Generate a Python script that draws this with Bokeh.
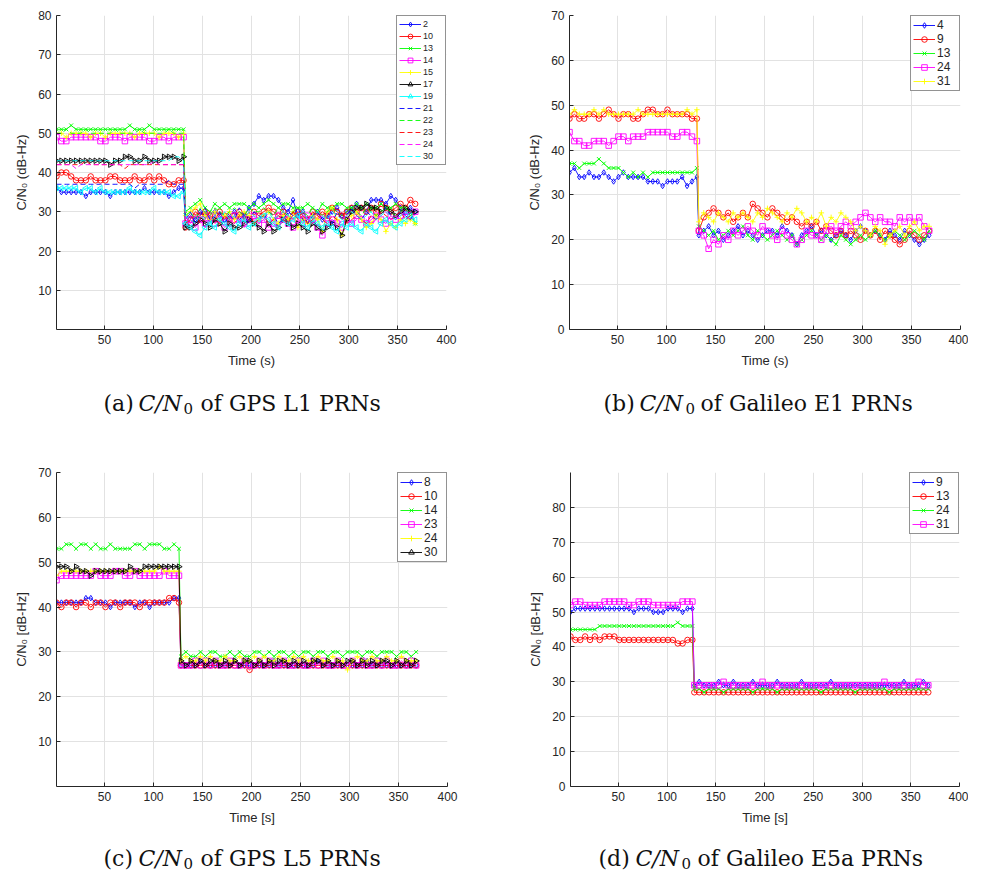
import math
from bokeh.plotting import figure
from bokeh.layouts import column, row
from bokeh.models import Range1d, FixedTicker
from bokeh.embed import file_html
from bokeh.resources import INLINE
from bokeh.core.properties import value

# ---------------- sample times (s) ----------------
T_E1L1_PRE = list(range(1, 132, 5))     # before the attenuation step (~131 s)
T_E1L1_POST = list(range(133, 372, 5))  # after the step
T_L5E5_PRE = list(range(1, 127, 5))     # before the step (~126 s)
T_L5E5_POST = list(range(128, 372, 5))

X_TICKS = [50, 100, 150, 200, 250, 300, 350, 400]

# ---------------- (a) GPS L1 C/N0 [dB-Hz] ----------------
l1_2_pre = [36,35,35,35,35,35,34,35,35,35,35,34,35,35,35,35,35,35,36,35,35,35,35,34,35,36,36]
l1_2_post = [27,29,28,30,29,28,30,29,28,29,30,28,29,31,32,34,33,34,34,33,31,30,33,29,30,28,29,30,28,29,30,31,29,30,31,32,31,30,33,33,33,32,34,33,31,30,31,30]
l1_10_pre = [39,40,40,39,38,38,38,39,38,38,38,39,39,38,38,38,39,38,38,39,38,39,38,37,37,38,38]
l1_10_post = [26,28,30,29,30,29,28,30,29,28,29,30,29,28,30,29,30,31,30,29,30,28,29,30,29,28,30,29,30,29,31,30,29,30,31,30,31,30,31,30,32,31,30,31,32,31,33,32]
l1_13_pre = [51,51,51,52,51,51,51,51,51,51,51,51,51,51,51,52,51,51,51,52,51,51,51,51,51,51,51]
l1_13_post = [30,31,32,33,31,30,32,31,32,31,32,32,32,31,32,31,32,33,32,31,32,32,31,31,31,32,31,30,32,31,31,32,32,31,31,32,31,32,31,31,32,31,31,32,31,31,30,27]
l1_14_pre = [49,48,48,49,49,49,49,49,49,48,48,49,49,49,48,49,49,49,49,48,48,49,49,48,49,49,49]
l1_14_post = [27,28,26,28,27,29,27,28,26,27,29,28,27,28,29,27,28,26,27,29,28,27,26,28,27,29,28,26,24,27,28,27,26,28,27,29,28,27,28,29,28,27,29,28,29,30,29,30]
l1_15_pre = [50,50,49,50,50,50,50,49,50,50,49,50,50,50,50,50,49,50,50,50,50,49,50,50,50,49,50]
l1_15_post = [29,30,31,32,29,28,30,27,29,30,28,29,30,29,27,28,29,30,28,27,29,28,30,26,28,27,29,28,25,30,31,28,24,28,29,30,28,26,27,29,28,25,27,26,28,27,28,27]
l1_17_pre = [43,43,43,43,43,43,43,43,43,43,43,42,43,43,44,44,43,43,44,43,43,43,44,44,44,43,44]
l1_17_post = [26,26,27,28,27,26,28,27,25,27,26,26,27,28,27,26,25,27,25,26,28,27,26,27,26,25,27,26,25,26,27,26,24,28,30,31,31,32,31,31,30,31,30,29,30,31,30,30]
l1_19_pre = [36,36,36,36,36,35,36,36,35,36,35,35,35,35,35,36,35,35,35,35,36,35,35,35,34,34,35]
l1_19_post = [27,26,25,24,26,27,26,28,27,26,25,27,28,26,27,28,29,28,27,26,28,27,28,29,27,26,28,27,26,27,26,25,27,26,27,26,25,27,26,25,27,28,27,26,27,28,29,28]
l1_21_pre = [37,37,37,37,37,37,37,37,37,37,37,37,37,37,37,37,36,37,37,37,37,37,37,38,37,37,37]
l1_21_post = [28,30,27,29,31,28,29,30,27,29,28,31,29,27,30,29,28,30,29,27,28,30,29,31,28,27,29,30,28,29,27,30,28,29,31,29,28,30,29,28,30,31,29,28,30,29,28,30]
l1_22_pre = [50,50,51,50,50,50,51,50,50,50,50,50,51,50,50,50,50,51,50,50,50,50,50,51,50,50,50]
l1_22_post = [29,30,28,31,30,29,31,30,29,30,31,30,29,31,30,30,31,30,29,31,30,29,30,31,30,29,31,30,29,30,31,30,29,30,31,30,29,31,30,29,30,31,30,29,30,31,29,30]
l1_23_pre = [42,42,42,42,42,42,43,42,42,42,42,42,42,42,41,42,42,42,42,42,42,42,42,42,42,42,42]
l1_23_post = [27,28,29,27,28,30,28,27,29,28,27,29,28,30,27,28,29,27,28,29,28,27,30,28,29,27,28,29,28,27,29,28,30,27,28,29,28,27,29,28,30,29,28,29,30,28,29,30]
l1_24_pre = [42,42,42,42,41,42,42,42,42,42,42,42,42,42,42,42,42,42,42,42,43,42,42,42,42,42,42]
l1_24_post = [28,27,29,28,26,28,29,27,28,29,27,28,26,29,28,27,28,29,27,26,28,29,28,27,29,28,27,28,29,27,28,26,28,29,27,28,29,28,27,28,29,30,28,29,28,29,30,29]
l1_30_pre = [43,43,43,43,43,43,43,43,43,43,43,43,43,43,43,43,43,43,43,43,43,43,43,43,44,44,43]
l1_30_post = [29,28,27,29,28,27,29,28,30,28,29,27,28,30,29,28,29,30,28,29,30,29,28,29,30,28,29,30,29,28,30,29,28,29,30,29,28,29,30,28,29,30,29,28,29,30,29,28]

# ---------------- (b) Galileo E1 C/N0 [dB-Hz] ----------------
e1_4_pre = [35,36,34,34,35,34,34,35,34,33,34,35,34,34,34,34,33,33,33,32,33,33,33,34,32,33,34]
e1_4_post = [21,22,23,21,22,20,21,22,23,21,22,21,20,21,22,22,21,23,22,21,19,21,22,23,21,22,21,20,21,22,21,20,22,23,22,21,22,21,20,22,21,20,22,21,20,19,20,21]
e1_9_pre = [47,48,47,47,48,48,47,48,49,48,47,48,48,47,47,48,49,49,48,48,49,48,48,48,48,47,47]
e1_9_post = [22,25,26,27,26,25,26,24,25,26,25,28,27,26,25,27,26,25,24,25,24,23,24,23,24,22,23,22,21,22,21,22,21,20,22,21,22,20,22,21,20,19,20,22,21,20,21,22]
e1_13_pre = [37,37,36,37,37,37,38,37,36,36,36,35,34,35,34,35,34,35,35,35,35,35,35,35,35,35,36]
e1_13_post = [23,22,21,22,20,21,22,21,22,23,21,20,22,21,20,21,22,21,20,21,19,20,21,22,21,20,21,20,19,21,20,19,20,21,20,21,22,21,20,21,22,21,20,21,22,21,20,22]
e1_24_pre = [44,42,42,41,41,42,42,42,41,42,43,43,42,43,43,43,44,44,44,44,44,43,43,44,44,43,42]
e1_24_post = [22,21,18,20,19,21,20,22,21,22,23,22,21,23,22,21,20,22,21,20,19,20,22,21,21,20,22,23,22,23,24,23,24,25,26,25,24,25,24,24,23,25,24,25,24,25,23,22]
e1_31_pre = [48,49,48,48,48,49,48,49,48,48,48,48,48,48,49,48,48,48,48,48,48,48,48,48,49,48,49]
e1_31_post = [24,26,25,24,26,25,24,26,25,26,25,24,26,25,27,26,25,24,26,25,27,26,24,25,24,26,23,25,24,26,25,24,22,23,22,21,23,22,19,21,22,23,21,23,24,22,23,23]

# ---------------- (c) GPS L5 C/N0 [dB-Hz] ----------------
l5_8_pre = [41,41,41,41,41,41,42,42,41,41,41,40,41,41,41,41,40,41,41,40,41,41,41,41,42,42]
l5_8_post = [27,27,27,27,28,27,27,27,27,27,27,28,27,27,27,27,27,27,27,28,27,27,27,27,27,27,27,27,28,27,27,27,27,27,27,27,27,27,28,27,27,27,27,27,27,27,27,27,27]
l5_10_pre = [41,40,41,41,40,41,41,40,41,41,40,41,41,40,41,41,41,40,41,41,41,41,41,42,42,41]
l5_10_post = [27,27,27,27,27,27,27,27,27,27,27,27,27,27,26,27,27,27,27,27,27,27,27,27,27,27,27,27,27,27,27,27,27,27,27,27,27,27,27,27,27,27,27,27,27,27,27,27,27]
l5_14_pre = [53,53,54,54,53,54,54,53,54,53,53,54,53,53,53,53,54,54,53,54,54,54,53,53,54,53]
l5_14_post = [29,30,29,29,30,29,30,30,29,29,30,29,30,29,29,30,30,29,30,29,30,30,29,30,29,30,30,29,30,30,29,30,30,29,30,30,30,29,30,30,29,30,30,30,29,30,30,29,30]
l5_23_pre = [46,47,47,47,47,47,47,47,48,47,47,47,48,48,47,47,48,47,47,47,47,47,48,47,47,47]
l5_23_post = [27,27,27,28,27,28,27,28,27,27,28,27,27,28,27,27,28,27,28,27,27,28,27,27,28,27,27,28,27,28,27,27,28,27,27,28,27,28,27,27,28,27,28,27,27,28,27,28,27]
l5_24_pre = [47,48,48,48,48,48,48,48,48,48,48,48,48,48,48,48,48,48,48,48,48,49,48,48,48,48]
l5_24_post = [28,29,28,28,29,28,29,28,28,29,28,28,29,28,28,29,28,29,28,28,29,28,28,29,28,29,28,28,29,28,28,29,28,28,26,28,29,28,28,29,28,28,29,28,28,29,28,28,28]
l5_30_pre = [49,49,49,48,49,48,48,47,48,48,48,48,48,48,48,49,48,48,49,49,49,49,49,49,49,49]
l5_30_post = [28,27,28,27,28,27,28,28,27,28,27,28,27,28,28,27,28,27,28,27,28,28,27,28,27,28,27,28,28,27,28,27,28,27,28,28,27,28,27,28,27,28,28,27,28,27,28,27,28]

# ---------------- (d) Galileo E5a C/N0 [dB-Hz] ----------------
e5a_9_pre = [50,51,51,51,51,51,51,51,51,51,51,51,51,50,51,51,51,50,50,50,51,51,51,50,51,51]
e5a_9_post = [29,30,29,29,29,30,29,29,30,29,29,29,30,29,29,29,29,30,29,29,29,29,30,29,29,29,29,29,30,29,29,29,29,29,29,29,29,29,29,29,29,29,29,30,29,29,29,30,29]
e5a_13_pre = [43,42,42,43,42,43,42,43,43,43,42,42,42,42,42,42,42,42,42,42,42,42,41,41,42,42]
e5a_13_post = [27,27,27,27,27,27,27,27,27,27,27,27,27,27,27,27,27,27,27,27,27,27,27,27,27,27,27,27,27,27,27,27,27,27,27,27,27,27,27,27,27,27,27,27,27,27,27,27,27]
e5a_24_pre = [45,45,45,45,45,45,46,46,46,46,46,46,46,46,46,46,46,46,46,46,46,46,47,46,46,46]
e5a_24_post = [28,28,27,28,28,28,27,28,28,28,28,28,27,28,28,28,28,27,28,28,28,28,28,28,28,28,27,28,28,28,28,28,28,27,28,28,28,28,28,28,27,28,28,28,28,28,28,28,28]
e5a_31_pre = [52,53,53,52,52,52,52,53,53,53,53,53,52,52,53,53,53,52,52,52,52,52,52,53,53,53]
e5a_31_post = [29,29,29,29,29,29,30,29,29,29,29,29,29,29,30,29,29,29,29,29,29,29,29,29,29,29,29,29,29,29,29,29,29,29,29,29,29,29,29,30,29,29,29,29,29,29,30,29,29]

BLUE, RED, GREEN, MAG, YEL, BLK, CYA = "#0000ff", "#ff0000", "#00ff00", "#ff00ff", "#ffff00", "#000000", "#00ffff"
INK = "#262626"
SANS = "Liberation Sans"
SERIF = "DejaVu Serif"

# (label, pre, post, colour, marker, marker angle, dash)
SERIES_A = [
    ("2", l1_2_pre, l1_2_post, BLUE, "diamond", 0, "solid"),
    ("10", l1_10_pre, l1_10_post, RED, "circle", 0, "solid"),
    ("13", l1_13_pre, l1_13_post, GREEN, "x", 0, "solid"),
    ("14", l1_14_pre, l1_14_post, MAG, "square", 0, "solid"),
    ("15", l1_15_pre, l1_15_post, YEL, "cross", 0, "solid"),
    ("17", l1_17_pre, l1_17_post, BLK, "triangle", -math.pi / 2, "solid"),
    ("19", l1_19_pre, l1_19_post, CYA, "triangle", math.pi / 2, "solid"),
    ("21", l1_21_pre, l1_21_post, BLUE, None, 0, "5 3"),
    ("22", l1_22_pre, l1_22_post, GREEN, None, 0, "5 3"),
    ("23", l1_23_pre, l1_23_post, RED, None, 0, "5 3"),
    ("24", l1_24_pre, l1_24_post, MAG, None, 0, "5 3"),
    ("30", l1_30_pre, l1_30_post, CYA, None, 0, "5 3"),
]
SERIES_B = [
    ("4", e1_4_pre, e1_4_post, BLUE, "diamond", 0, "solid"),
    ("9", e1_9_pre, e1_9_post, RED, "circle", 0, "solid"),
    ("13", e1_13_pre, e1_13_post, GREEN, "x", 0, "solid"),
    ("24", e1_24_pre, e1_24_post, MAG, "square", 0, "solid"),
    ("31", e1_31_pre, e1_31_post, YEL, "cross", 0, "solid"),
]
SERIES_C = [
    ("8", l5_8_pre, l5_8_post, BLUE, "diamond", 0, "solid"),
    ("10", l5_10_pre, l5_10_post, RED, "circle", 0, "solid"),
    ("14", l5_14_pre, l5_14_post, GREEN, "x", 0, "solid"),
    ("23", l5_23_pre, l5_23_post, MAG, "square", 0, "solid"),
    ("24", l5_24_pre, l5_24_post, YEL, "cross", 0, "solid"),
    ("30", l5_30_pre, l5_30_post, BLK, "triangle", -math.pi / 2, "solid"),
]
SERIES_D = [
    ("9", e5a_9_pre, e5a_9_post, BLUE, "diamond", 0, "solid"),
    ("13", e5a_13_pre, e5a_13_post, RED, "circle", 0, "solid"),
    ("24", e5a_24_pre, e5a_24_post, GREEN, "x", 0, "solid"),
    ("31", e5a_31_pre, e5a_31_post, MAG, "square", 0, "solid"),
]


def panel(series, t_pre, t_post, y_end, yticks, ylabel, xlabel, w, h, bl, br, bt, bb,
          leg_font, leg_row):
    p = figure(width=w, height=h, x_range=Range1d(1, 400), y_range=Range1d(0, y_end),
               output_backend="svg", toolbar_location=None,
               min_border_left=bl, min_border_right=br, min_border_top=bt, min_border_bottom=bb)
    p.outline_line_color = None
    p.background_fill_color = "white"
    p.xaxis.ticker = FixedTicker(ticks=X_TICKS)
    p.yaxis.ticker = FixedTicker(ticks=yticks)
    for ax in (p.xaxis[0], p.yaxis[0]):
        ax.major_tick_in = 4
        ax.major_tick_out = 0
        ax.minor_tick_line_color = None
        ax.axis_line_color = INK
        ax.major_tick_line_color = INK
        ax.major_label_text_font = SANS
        ax.major_label_text_font_size = "12px"
        ax.major_label_text_color = INK
        ax.axis_label_text_font = SANS
        ax.axis_label_text_font_size = "13px"
        ax.axis_label_text_font_style = "normal"
        ax.axis_label_text_color = INK
        ax.axis_label_standoff = 6
        ax.major_label_standoff = 5
    p.xaxis.axis_label = xlabel
    p.yaxis.axis_label = ylabel
    p.grid.grid_line_color = "#e2e2e2"
    p.grid.grid_line_width = 1

    for lab, pre, post, color, marker, ang, dash in series:
        xs = [t for t, _ in zip(t_pre, pre)] + [t for t, _ in zip(t_post, post)]
        ys = [v for _, v in zip(t_pre, pre)] + [v for _, v in zip(t_post, post)]
        p.line(xs, ys, line_color=color, line_width=0.9, line_dash=dash, legend_label=lab)
        if marker:
            p.scatter(xs, ys, marker=marker, angle=ang, size=5.5, line_color=color,
                      line_width=0.9, fill_color=None, legend_label=lab)

    lg = p.legend[0]
    lg.location = "top_right"
    lg.margin = 0
    lg.padding = 2
    lg.spacing = 0
    lg.glyph_width = 22
    lg.glyph_height = leg_row
    lg.label_height = leg_row
    lg.label_standoff = 2
    lg.label_text_font = SANS
    lg.label_text_font_size = leg_font
    lg.label_text_color = INK
    lg.border_line_color = INK
    lg.border_line_width = 1
    lg.background_fill_color = "white"
    lg.background_fill_alpha = 1
    return p


def caption(w, h, yc, letter, x_letter, x_cn, x_sub, x_rest, rest):
    p = figure(width=w, height=h, x_range=Range1d(0, w), y_range=Range1d(0, h),
               output_backend="svg", toolbar_location=None, min_border=0,
               x_axis_location=None, y_axis_location=None)
    p.grid.visible = False
    p.outline_line_color = None
    common = dict(text_font=value(SERIF), text_baseline="middle", text_align="left",
                  text_color="#111111")
    p.text(x=[x_letter], y=[yc], text=[letter], text_font_size="22px", **common)
    p.text(x=[x_cn], y=[yc], text=["C/N"], text_font_size="22px", text_font_style="italic",
           **common)
    p.text(x=[x_sub], y=[yc - 5], text=["0"], text_font_size="15px", **common)
    p.text(x=[x_rest], y=[yc], text=[rest], text_font_size="22px", **common)
    return p


pa = panel(SERIES_A, T_E1L1_PRE, T_E1L1_POST, 80, [10, 20, 30, 40, 50, 60, 70, 80],
           "C/N\u2080 (dB-Hz)", "Time (s)", 488, 378, 56, 42, 15, 49, "9px", 12)
pb = panel(SERIES_B, T_E1L1_PRE, T_E1L1_POST, 70, [0, 10, 20, 30, 40, 50, 60, 70],
           "C/N\u2080 (dB-Hz)", "Time (s)", 480, 378, 81, 8, 14, 47, "12px", 14)
pc = panel(SERIES_C, T_L5E5_PRE, T_L5E5_POST, 70, [10, 20, 30, 40, 50, 60, 70],
           "C/N\u2080 [dB-Hz]", "Time [s]", 488, 402, 56, 41, 44, 44, "12px", 14)
pd = panel(SERIES_D, T_L5E5_PRE, T_L5E5_POST, 90, [0, 10, 20, 30, 40, 50, 60, 70, 80],
           "C/N\u2080 [dB-Hz]", "Time [s]", 480, 402, 82, 9, 44, 40, "12px", 14)

ca = caption(488, 50, 25, "(a)", 103, 138, 183, 200, "of GPS L1 PRNs")
cb = caption(480, 50, 25, "(b)", 115, 151, 197, 212, "of Galileo E1 PRNs")
cc = caption(488, 42, 14, "(c)", 103, 138, 183, 200, "of GPS L5 PRNs")
cd = caption(480, 42, 14, "(d)", 110, 147, 193, 209, "of Galileo E5a PRNs")

layout = column(row(pa, pb), row(ca, cb), row(pc, pd), row(cc, cd))

open("out.html", "w").write(file_html(layout, INLINE))
